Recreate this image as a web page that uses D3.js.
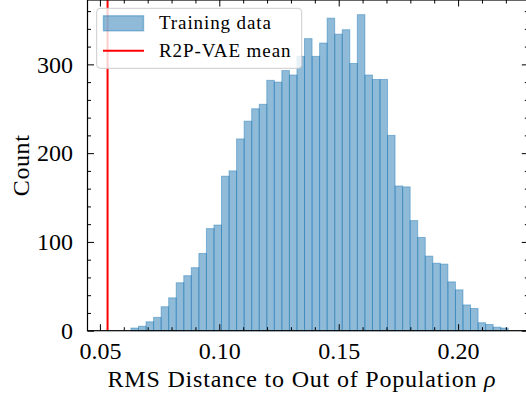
<!DOCTYPE html>
<html>
<head>
<meta charset="utf-8">
<script src="https://cdn.jsdelivr.net/npm/d3@7"></script>
<style>
  html, body { margin: 0; padding: 0; background: #fff; }
  svg { display: block; }
  text { font-family: "Liberation Serif", "DejaVu Serif", serif; fill: #000; }
</style>
</head>
<body>
<svg id="chart" width="526" height="400"></svg>
<script>
// Histogram of RMS distance to out-of-population samples (training data)
const binStart = 0.0630;
const binWidth = 0.00316;
const counts = [
  3, 5, 10, 15, 27, 37, 54, 62, 71, 87,
  115, 119, 174, 180, 216, 236, 250, 255, 282, 280,
  293, 288, 309, 329, 309, 324, 352, 334, 339, 301,
  356, 288, 283, 283, 220, 163, 162, 124, 105, 84,
  76, 75, 55, 46, 29, 25, 9, 7, 4, 3
];
const meanRho = 0.0532;

const xMajorTicks = [0.05, 0.10, 0.15, 0.20];
const xMinorTicks = [0.06, 0.07, 0.08, 0.09, 0.11, 0.12, 0.13, 0.14, 0.16, 0.17, 0.18, 0.19, 0.21, 0.22];
const yMajorTicks = [0, 100, 200, 300];
const yMinorTicks = [20, 40, 60, 80, 120, 140, 160, 180, 220, 240, 260, 280, 320, 340, 360];

const legendLabels = ["Training data", "R2P-VAE mean"];
const xLabel = "RMS Distance to Out of Population ";
const xLabelSymbol = "\u03C1";
const yLabel = "Count";

const barColor = "#1f77b4";
const lineColor = "#ff0000";

const svg = d3.select("#chart");

const plot = { left: 87.5, right: 528.3, top: 0, bottom: 330.7 };

const x = d3.scaleLinear().domain([0.0448, 0.2294]).range([plot.left, plot.right]);
const y = d3.scaleLinear().domain([0, 372.5]).range([plot.bottom, plot.top]);

const bins = counts.map((c, i) => ({
  x0: binStart + i * binWidth,
  x1: binStart + (i + 1) * binWidth,
  count: c
}));

// bars
svg.append("g")
  .selectAll("rect")
  .data(bins)
  .join("rect")
  .attr("x", d => x(d.x0))
  .attr("y", d => y(d.count))
  .attr("width", d => x(d.x1) - x(d.x0))
  .attr("height", d => y(0) - y(d.count))
  .attr("fill", barColor)
  .attr("fill-opacity", 0.5)
  .attr("stroke", barColor)
  .attr("stroke-opacity", 0.45)
  .attr("stroke-width", 1);

// mean marker
svg.append("line")
  .attr("x1", x(meanRho)).attr("x2", x(meanRho))
  .attr("y1", plot.top).attr("y2", plot.bottom)
  .attr("stroke", lineColor)
  .attr("stroke-width", 2);

// axes: ticks point inward on all four sides
const majorLen = 6.5, minorLen = 3.5;
function styleAxis(g, withLabels) {
  g.select(".domain").remove();
  g.selectAll(".tick line").attr("stroke", "#000").attr("stroke-width", 1);
  if (!withLabels) g.selectAll(".tick text").remove();
  else g.selectAll(".tick text").style("font-size", "24px");
}

svg.append("g").attr("transform", `translate(0,${plot.bottom})`)
  .call(d3.axisBottom(x).tickValues(xMajorTicks).tickSize(-majorLen).tickPadding(majorLen + 5)
    .tickFormat(d3.format(".2f")))
  .call(g => styleAxis(g, true));
svg.append("g").attr("transform", `translate(0,${plot.bottom})`)
  .call(d3.axisBottom(x).tickValues(xMinorTicks).tickSize(-minorLen))
  .call(g => styleAxis(g, false));
svg.append("g").attr("transform", `translate(0,${plot.top})`)
  .call(d3.axisTop(x).tickValues(xMajorTicks).tickSize(-majorLen))
  .call(g => styleAxis(g, false));
svg.append("g").attr("transform", `translate(0,${plot.top})`)
  .call(d3.axisTop(x).tickValues(xMinorTicks).tickSize(-minorLen))
  .call(g => styleAxis(g, false));

svg.append("g").attr("transform", `translate(${plot.left},0)`)
  .call(d3.axisLeft(y).tickValues(yMajorTicks).tickSize(-majorLen).tickPadding(majorLen + 8)
    .tickFormat(d3.format("d")))
  .call(g => styleAxis(g, true));
svg.append("g").attr("transform", `translate(${plot.left},0)`)
  .call(d3.axisLeft(y).tickValues(yMinorTicks).tickSize(-minorLen))
  .call(g => styleAxis(g, false));
svg.append("g").attr("transform", `translate(${plot.right},0)`)
  .call(d3.axisRight(y).tickValues(yMajorTicks).tickSize(-majorLen))
  .call(g => styleAxis(g, false));
svg.append("g").attr("transform", `translate(${plot.right},0)`)
  .call(d3.axisRight(y).tickValues(yMinorTicks).tickSize(-minorLen))
  .call(g => styleAxis(g, false));

// frame
svg.append("rect")
  .attr("x", plot.left).attr("y", plot.top)
  .attr("width", plot.right - plot.left).attr("height", plot.bottom - plot.top)
  .attr("fill", "none").attr("stroke", "#000").attr("stroke-width", 1.2);

// axis labels
const xl = svg.append("text")
  .attr("x", 302).attr("y", 387)
  .attr("text-anchor", "middle")
  .style("font-size", "24px")
  .style("letter-spacing", "0.8px");
xl.append("tspan").text(xLabel);
xl.append("tspan").style("font-style", "italic").text(xLabelSymbol);

svg.append("text")
  .attr("transform", `translate(29,${(plot.top + plot.bottom) / 2}) rotate(-90)`)
  .attr("text-anchor", "middle")
  .style("font-size", "24px")
  .style("letter-spacing", "0.6px")
  .text(yLabel);

// legend
const legend = svg.append("g");
legend.append("rect")
  .attr("x", 96.7).attr("y", 8.3).attr("width", 205).attr("height", 60)
  .attr("rx", 3.5)
  .attr("fill", "#fff").attr("fill-opacity", 0.8)
  .attr("stroke", "#cccccc").attr("stroke-width", 1);
legend.append("rect")
  .attr("x", 103.5).attr("y", 15.8).attr("width", 40).attr("height", 15)
  .attr("fill", barColor).attr("fill-opacity", 0.5)
  .attr("stroke", barColor).attr("stroke-opacity", 0.45).attr("stroke-width", 1.4);
legend.append("line")
  .attr("x1", 103).attr("x2", 144).attr("y1", 50.7).attr("y2", 50.7)
  .attr("stroke", lineColor).attr("stroke-width", 2);
legend.selectAll("text.lbl")
  .data(legendLabels)
  .join("text")
  .attr("class", "lbl")
  .attr("x", 159)
  .attr("y", (d, i) => 29.3 + i * 27.4)
  .style("font-size", "19px")
  .style("letter-spacing", "0.9px")
  .text(d => d);
</script>
</body>
</html>
